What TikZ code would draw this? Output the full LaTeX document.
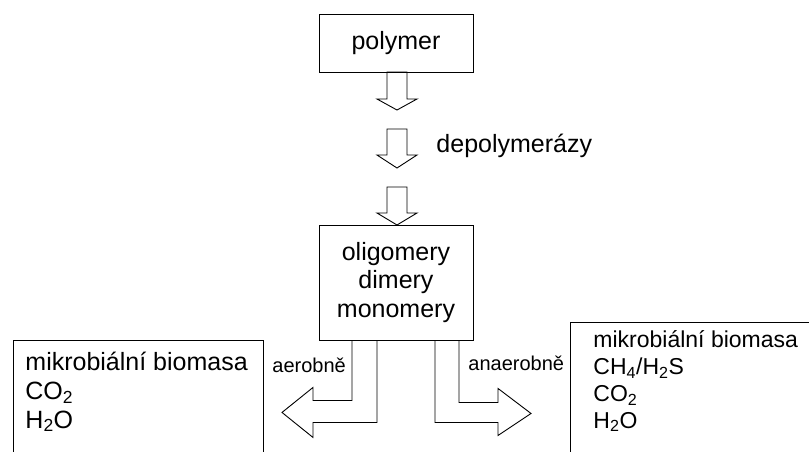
\documentclass[tikz,border=0pt]{standalone}
\usepackage{fontspec}
\setmainfont{Liberation Sans}
\usetikzlibrary{positioning}

\tikzset{
	box/.style={draw, line width=0.9pt, inner sep=0pt},
	big/.style={font=\fontsize{25}{28.5}\selectfont},
	mid/.style={font=\fontsize{23}{26.7}\selectfont},
	small/.style={font=\fontsize{20}{24}\selectfont},
}

\begin{document}
\begin{tikzpicture}[x=1pt, y=-1pt, line width=0.9pt]
		\clip (0,0) rectangle (809,451);
		\node[box, big, minimum width=154pt, minimum height=58pt] (polymer) at (396,43) {polymer};
		\node[box, big, minimum width=154pt, minimum height=115pt, align=center] (oligo) at (396,282.5) {oligomery\\dimery\\monomery};
		% sipky dolu
		\foreach \t/\h/\e in {72/99/110, 129/155/168, 187/213/225}
			\draw (387,\t) -- (387,\h) -- (377,\h) -- (397,\e) -- (417,\h) -- (407,\h) -- (407,\t) -- cycle;
		\node[big, anchor=base west, inner sep=0pt] (depol) at (436,152) {depolymerázy};
		% aerobne
		\draw (oligo.south) ++(-19,0) -- ++(0,82) -- ++(-64,0) -- ++(0,15) -- ++(-31,-25)
			-- ++(31,-25) -- ++(0,13) -- ++(39,0) -- ++(0,-60);
		\node[small, anchor=base west, inner sep=0pt] (aero) at (272,372) {aerobně};
		\draw (13,340) rectangle (263,480);
		\node[big, anchor=base west, align=left, inner sep=0pt] (aerotext) at (25,428)
			{mikrobiální biomasa\\[0.5pt]CO\textsubscript{2}\\H\textsubscript{2}O};
		% anaerobne
		\draw (oligo.south) ++(39,0) -- ++(0,82) -- ++(63,0) -- ++(0,13) -- ++(33,-22)
			-- ++(-33,-25) -- ++(0,14) -- ++(-39,0) -- ++(0,-62);
		\node[small, anchor=base west, inner sep=0pt] (anaero) at (468,370) {anaerobně};
		\draw (570,322) rectangle (840,480);
		\node[mid, anchor=base west, align=left, inner sep=0pt] (anaerotext) at (593,428)
			{mikrobiální biomasa\\CH\textsubscript{4}/H\textsubscript{2}S\\CO\textsubscript{2}\\H\textsubscript{2}O};
	\end{tikzpicture}
\end{document}
